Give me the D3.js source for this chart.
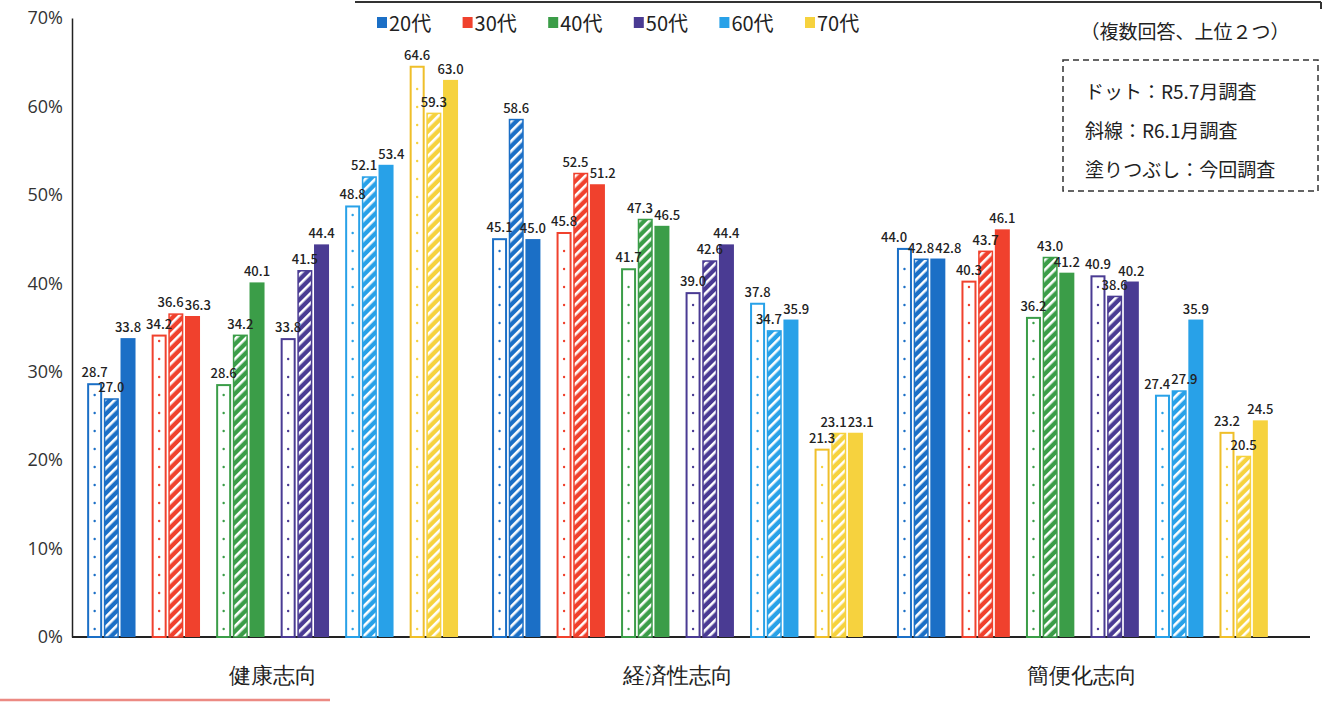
<!DOCTYPE html>
<html>
<head>
<meta charset="utf-8">
<script src="https://cdn.jsdelivr.net/npm/d3@7"></script>
<style>
  body { margin: 0; background: #fff; }
  svg { display: block; font-family: "Noto Sans CJK JP", "Noto Sans", sans-serif; }
</style>
</head>
<body>
<div id="chart"></div>
<script>
const categories = ["健康志向", "経済性志向", "簡便化志向"];
const ages = ["20代", "30代", "40代", "50代", "60代", "70代"];
const surveys = ["R5.7月調査", "R6.1月調査", "今回調査"];

// per age: [R5.7 (dot), R6.1 (hatch), current (fill)]
const health = [[28.7, 27.0, 33.8], [34.2, 36.6, 36.3], [28.6, 34.2, 40.1],
                [33.8, 41.5, 44.4], [48.8, 52.1, 53.4], [64.6, 59.3, 63.0]];
const economy = [[45.1, 58.6, 45.0], [45.8, 52.5, 51.2], [41.7, 47.3, 46.5],
                 [39.0, 42.6, 44.4], [37.8, 34.7, 35.9], [21.3, 23.1, 23.1]];
const convenience = [[44.0, 42.8, 42.8], [40.3, 43.7, 46.1], [36.2, 43.0, 41.2],
                     [40.9, 38.6, 40.2], [27.4, 27.9, 35.9], [23.2, 20.5, 24.5]];

const yTicks = [0, 10, 20, 30, 40, 50, 60, 70];
const ageColors = ["#1b6fc6", "#f0412d", "#3b9d48", "#4a3b93", "#28a1e8", "#f6d23e"];
const noteLines = ["ドット：R5.7月調査", "斜線：R6.1月調査", "塗りつぶし：今回調査"];

const width = 1327, height = 702;
const svg = d3.select("#chart").append("svg")
  .attr("width", width).attr("height", height);

const defs = svg.append("defs");
ageColors.forEach((c, i) => {
  const p = defs.append("pattern")
    .attr("id", "hatch" + i)
    .attr("patternUnits", "userSpaceOnUse")
    .attr("width", 7).attr("height", 7)
    .attr("patternTransform", "rotate(45)");
  p.append("rect").attr("width", 7).attr("height", 7).attr("fill", c);
  p.append("rect").attr("width", 2.6).attr("height", 7).attr("fill", "#fff");
});

const y = d3.scaleLinear().domain([0, 70]).range([637, 18]);
const x0 = d3.scaleBand().domain(categories).range([75, 1280])
  .paddingInner(0.084).paddingOuter(0.03);
const x1 = d3.scaleBand().domain(ages).range([0, x0.bandwidth()]).paddingInner(0.25);
const x2 = d3.scaleBand().domain(surveys).range([0, x1.bandwidth()]).paddingInner(0.1);

// frame bits from the scanned page
svg.append("line").attr("x1", 355).attr("x2", 1321).attr("y1", 2).attr("y2", 2)
  .attr("stroke", "#333").attr("stroke-width", 2);
svg.append("line").attr("x1", 1321).attr("x2", 1321).attr("y1", 2).attr("y2", 9)
  .attr("stroke", "#333").attr("stroke-width", 2);
svg.append("line").attr("x1", 0).attr("x2", 330).attr("y1", 700).attr("y2", 700)
  .attr("stroke", "#e45a4f").attr("stroke-width", 2.5).attr("opacity", 0.7);

// y axis
const yAxis = svg.append("g")
  .attr("transform", "translate(72,0)")
  .call(d3.axisLeft(y).tickValues(yTicks).tickFormat(d => d + "%").tickSize(0).tickPadding(9));
yAxis.select(".domain").attr("stroke", "#222").attr("stroke-width", 1.5);
yAxis.selectAll("text").attr("font-size", 18).attr("fill", "#333")
  .attr("font-family", "'Open Sans', sans-serif");

// x axis
svg.append("line").attr("x1", 72).attr("x2", 1310).attr("y1", y(0)).attr("y2", y(0))
  .attr("stroke", "#222").attr("stroke-width", 2);
const xAxis = svg.append("g")
  .attr("transform", `translate(0,${y(0)})`)
  .call(d3.axisBottom(x0).tickSize(0).tickPadding(30));
xAxis.select(".domain").remove();
xAxis.selectAll("text").attr("font-size", 22).attr("fill", "#222");

const dataByCat = [health, economy, convenience];
const labelW = 27, labelH = 13, maxShift = 15;

const groups = svg.selectAll("g.cat")
  .data(categories)
  .join("g")
  .attr("class", "cat")
  .attr("transform", d => `translate(${x0(d)},0)`);

groups.each(function(cat, ci) {
  const g = d3.select(this);
  const bw = x2.bandwidth();
  const labels = [];

  dataByCat[ci].forEach((vals, ai) => {
    const color = ageColors[ai];
    const ax = x1(ages[ai]);

    vals.forEach((v, si) => {
      const bx = ax + x2(surveys[si]);
      const top = y(v);
      const h = y(0) - top;
      if (si === 0) {
        g.append("rect").attr("x", bx + 1).attr("y", top + 1)
          .attr("width", bw - 2).attr("height", h - 1)
          .attr("fill", "#fff").attr("stroke", ai === 5 ? "#efbf2a" : color).attr("stroke-width", 2);
        g.selectAll(null)
          .data(d3.range(y(0) - 8, top + 6, -18))
          .join("circle")
          .attr("cx", bx + bw / 2).attr("cy", d => d).attr("r", 1.2)
          .attr("fill", color);
      } else if (si === 1) {
        g.append("rect").attr("x", bx + 0.75).attr("y", top + 0.75)
          .attr("width", bw - 1.5).attr("height", h - 0.75)
          .attr("fill", `url(#hatch${ai})`).attr("stroke", color).attr("stroke-width", 1.5);
      } else {
        g.append("rect").attr("x", bx).attr("y", top)
          .attr("width", bw).attr("height", h)
          .attr("fill", color);
      }
      labels.push({ v, x0: bx + bw / 2, x: bx + bw / 2, y: top - 6 });
    });
  });

  // spread colliding labels sideways, then stack what is still clashing
  for (let it = 0; it < 80; it++) {
    for (let i = 0; i < labels.length - 1; i++) {
      for (let j = i + 1; j < labels.length; j++) {
        const a = labels[i], b = labels[j];
        const dx = b.x - a.x;
        if (Math.abs(b.y - a.y) < labelH && Math.abs(dx) < labelW) {
          const push = (labelW - Math.abs(dx)) / 2 + 0.1;
          a.x = Math.max(a.x0 - maxShift, a.x - push);
          b.x = Math.min(b.x0 + maxShift, b.x + push);
        }
      }
    }
  }
  for (let i = 0; i < labels.length - 1; i++) {
    const a = labels[i], b = labels[i + 1];
    if (Math.abs(b.y - a.y) < labelH && Math.abs(b.x - a.x) < labelW) {
      if (b.v <= a.v) b.y = a.y + labelH; else a.y = b.y + labelH;
    }
  }

  g.selectAll("text.val")
    .data(labels)
    .join("text")
    .attr("class", "val")
    .attr("x", d => d.x).attr("y", d => d.y)
    .attr("text-anchor", "middle")
    .attr("font-size", 13)
    .attr("font-weight", 500)
    .attr("fill", "#222")
    .text(d => d.v.toFixed(1));
});

// legend
const legend = svg.append("g").attr("transform", "translate(377,0)");
const li = legend.selectAll("g").data(ages).join("g")
  .attr("transform", (d, i) => `translate(${i * 85.6},0)`);
li.append("rect").attr("x", 0).attr("y", 17).attr("width", 10).attr("height", 11)
  .attr("fill", (d, i) => ageColors[i]);
li.append("text").attr("x", 12).attr("y", 31).attr("font-size", 20).attr("fill", "#222")
  .text(d => d);

// note
svg.append("text").attr("x", 1185).attr("y", 39).attr("text-anchor", "middle")
  .attr("font-size", 19).attr("fill", "#222").text("（複数回答、上位２つ）");
svg.append("rect").attr("x", 1063).attr("y", 60).attr("width", 255).attr("height", 131)
  .attr("fill", "none").attr("stroke", "#333").attr("stroke-width", 1.5)
  .attr("stroke-dasharray", "6,4");
svg.selectAll("text.note").data(noteLines).join("text")
  .attr("class", "note")
  .attr("x", 1085).attr("y", (d, i) => 99 + i * 39)
  .attr("font-size", 19).attr("fill", "#222")
  .text(d => d);
</script>
</body>
</html>
